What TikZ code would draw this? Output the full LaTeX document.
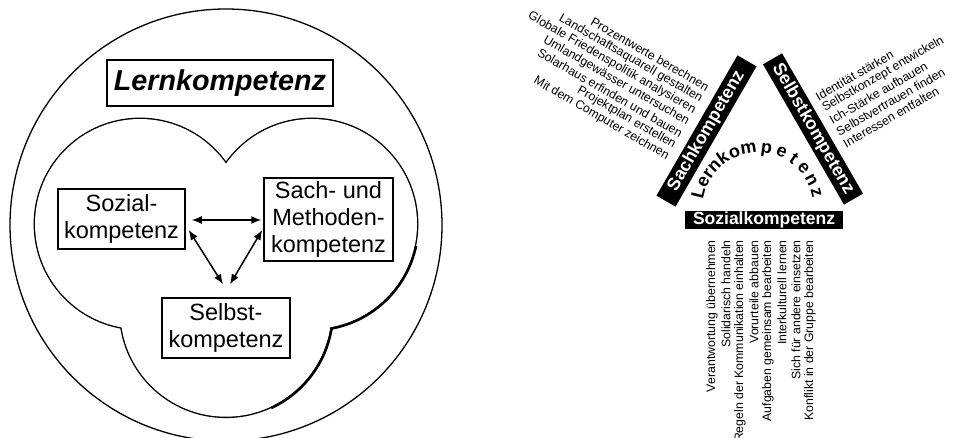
\documentclass[tikz,border=0pt]{standalone}
\usepackage{fontspec}
\setmainfont{Liberation Sans}
\usetikzlibrary{arrows.meta,calc}
\begin{document}
\begin{tikzpicture}[x=1pt,y=-1pt,
  kbox/.style={draw, line width=1.5pt, align=center, inner sep=0pt,
    font=\fontsize{23.5}{27}\selectfont},
  conn/.style={{Latex[length=10pt,width=8pt]}-{Latex[length=10pt,width=8pt]}, line width=1.5pt},
  bar/.style={fill=black, text=white, inner sep=0pt, minimum height=22pt,
    font=\fontsize{17.9}{18}\selectfont\bfseries},
  item/.style={inner sep=0pt, font=\fontsize{12.3}{14}\selectfont},
  arcletter/.style={inner sep=0pt, anchor=base, font=\fontsize{18}{18}\selectfont\bfseries}
]
\useasboundingbox (0,0) rectangle (955,438);

% ---------- left: nested competence model ----------
\draw[line width=1.3pt] (226,225) circle[radius=216pt];

% three overlapping lobes: wide strokes, then white fill leaves the outline
\draw[line width=2.8pt] (140,224) circle[radius=105pt]
                        (312,224) circle[radius=105pt]
                        (226,311) circle[radius=105.7pt];
\fill[white] (140,224) circle[radius=105pt]
             (312,224) circle[radius=105pt]
             (226,311) circle[radius=105.7pt];
% heavier outline on the lower right
\draw[line width=2.6pt] ($(312,224)+(-12:106.3pt)$) arc[start angle=-12, end angle=-80, radius=106.3pt];
\draw[line width=2.6pt] ($(226,311)+(-9:107pt)$) arc[start angle=-9, end angle=-65, radius=107pt];

\node[draw, line width=2pt, minimum width=226pt, minimum height=46pt, inner sep=0pt,
      font=\fontsize{28.7}{30}\selectfont\bfseries\itshape] (lern) at (220,83) {Lernkompetenz};

\node[kbox, minimum width=127pt, minimum height=60pt] (soz) at (121.5,219) {Sozial-\\kompetenz};
\node[kbox, minimum width=129pt, minimum height=83pt] (sach) at (328.5,219.5) {Sach- und\\Methoden-\\kompetenz};
\node[kbox, minimum width=128pt, minimum height=60pt] (selbst) at (226,328) {Selbst-\\kompetenz};

\draw[conn] ($(soz.east)+(6,1)$) -- ($(sach.west)+(-2,0.5)$);
\draw[conn] ($(soz.east)+(3,11)$) -- ($(selbst.north)+(-3,-13)$);
\draw[conn] ($(sach.west)+(-1,10.5)$) -- ($(selbst.north)+(4,-13)$);

% ---------- right: triangle of competences ----------
\node[bar, rotate=60, minimum width=162pt] (sachbar) at (706.5,131) {Sachkompetenz};
\node[bar, rotate=-60, minimum width=162pt] (selbstbar) at (813,129) {Selbstkompetenz};
\node[bar, minimum width=158pt, minimum height=18pt,
      font=\fontsize{17.5}{18}\selectfont\bfseries] (sozbar) at (764,220) {Sozialkompetenz};

% curved title inside the triangle
\coordinate (lc) at (758,208);
\foreach \ch/\ang [count=\i] in {L/166,e/154,r/145,n/136,k/125,o/113,m/99,p/82,e/67,t/54,e/41,n/28,z/15}
  \node[arcletter, rotate=\ang-90] (lt\i) at ($(lc)+(\ang:55.5pt)$) {\ch};

% subject and method competence
\node[item, rotate=-30, anchor=east] (sa1) at (708.3,87.9) {Prozentwerte berechnen};
\node[item, rotate=-30, anchor=east] (sa2) at (701.6,99.5) {Landschaftsaquarell gestalten};
\node[item, rotate=-30, anchor=east] (sa3) at (694.9,111.0) {Globale Friedenspolitik analysieren};
\node[item, rotate=-30, anchor=east] (sa4) at (688.3,122.6) {Umlandgewässer untersuchen};
\node[item, rotate=-30, anchor=east] (sa5) at (681.6,134.1) {Solarhaus erfinden und bauen};
\node[item, rotate=-30, anchor=east] (sa6) at (674.9,145.7) {Projektplan erstellen};
\node[item, rotate=-30, anchor=east] (sa7) at (668.2,157.2) {Mit dem Computer zeichnen};

% self competence
\node[item, rotate=30, anchor=west] (se1) at (816.5,97.3) {Identität stärken};
\node[item, rotate=30, anchor=west] (se2) at (823.3,109.0) {Selbstkonzept entwickeln};
\node[item, rotate=30, anchor=west] (se3) at (830.2,120.8) {Ich-Stärke aufbauen};
\node[item, rotate=30, anchor=west] (se4) at (837.1,132.6) {Selbstvertrauen finden};
\node[item, rotate=30, anchor=west] (se5) at (844.0,144.3) {Interessen entfalten};

% social competence
\foreach \t [count=\i] in {Verantwortung übernehmen, Solidarisch handeln,
    Regeln der Kommunikation einhalten, Vorurteile abbauen,
    Aufgaben gemeinsam bearbeiten, Interkulturell lernen,
    Sich für andere einsetzen, Konflikt in der Gruppe bearbeiten}
  \node[item, rotate=90, anchor=east] (so\i) at ({698+14*\i},240) {\t};
\end{tikzpicture}
\end{document}
